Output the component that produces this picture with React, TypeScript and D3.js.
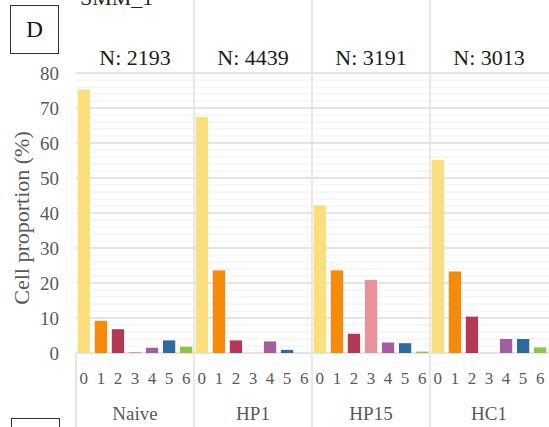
import React from "react";
import * as d3 from "d3";

const groups = ["Naive", "HP1", "HP15", "HC1"];
const counts = ["N: 2193", "N: 4439", "N: 3191", "N: 3013"];
const clusters = ["0", "1", "2", "3", "4", "5", "6"];
const naive = [75.3, 9.2, 6.8, 0.3, 1.5, 3.6, 1.8];
const hp1 = [67.4, 23.6, 3.6, 0, 3.3, 0.9, 0];
const hp15 = [42.2, 23.6, 5.5, 20.9, 3.0, 2.8, 0.4];
const hc1 = [55.2, 23.3, 10.4, 0, 4.0, 4.0, 1.6];
const seriesValues = [naive, hp1, hp15, hc1];
const clusterColors = ["#fbdf7f", "#f58a0b", "#b33a52", "#e8929c", "#a45d9d", "#2f6a9f", "#8cc541"];
const yTicks = [0, 10, 20, 30, 40, 50, 60, 70, 80];

const W = 549;
const H = 427;
const serif = '"Liberation Serif", "Times New Roman", serif';

export default function App() {
  const left = 76;
  const right = 548;
  const y = d3.scaleLinear().domain([0, 80]).range([353, 73]);
  const xGroup = d3.scaleBand<string>().domain(groups).range([left, right]).padding(0);
  const pw = xGroup.bandwidth();
  const xIn = d3
    .scaleBand<string>()
    .domain(clusters)
    .range([0, pw])
    .paddingInner(0.28)
    .paddingOuter(0.1);
  const minor = d3.range(0, 81, 2).filter((v) => v % 10 !== 0);
  const ts = { fontFamily: serif };

  return (
    <svg
      width={W}
      height={H}
      style={{ position: "absolute", left: 0, top: 0, background: "#fff" }}
    >
      <rect x={0} y={0} width={W} height={H} fill="#fff" />
      <text x={80} y={5} fontSize={22} fill="#222" style={ts}>SMM_1</text>
      <rect x={10.5} y={5.5} width={48} height={48} fill="#fff" stroke="#333" strokeWidth={1} />
      <text x={34.5} y={37} fontSize={23} textAnchor="middle" fill="#111" style={ts}>D</text>
      <rect x={11.5} y={418.5} width={48} height={30} fill="#fff" stroke="#333" strokeWidth={1} />

      {minor.map((v) => (
        <line key={"m" + v} x1={left} x2={W} y1={y(v)} y2={y(v)} stroke="#f0f0f0" strokeWidth={1} />
      ))}
      {yTicks.map((v) => (
        <line key={"g" + v} x1={left} x2={W} y1={y(v)} y2={y(v)} stroke="#dcdcdc" strokeWidth={1.5} />
      ))}
      {groups.slice(1).map((g) => (
        <line key={"d" + g} x1={xGroup(g)!} x2={xGroup(g)!} y1={0} y2={H} stroke="#e2e2e2" strokeWidth={1.5} />
      ))}
      <line x1={left} x2={left} y1={y(0)} y2={H} stroke="#dcdcdc" strokeWidth={1.5} />

      {yTicks.map((v) => (
        <text key={"t" + v} x={59} y={y(v) + 6.5} fontSize={19} textAnchor="end" fill="#595959" style={ts}>
          {v}
        </text>
      ))}
      <text
        transform={`translate(29, ${(y(0) + y(80)) / 2 + 5}) rotate(-90)`}
        fontSize={22}
        textAnchor="middle"
        fill="#595959"
        style={ts}
      >
        Cell proportion (%)
      </text>

      {groups.map((g, gi) => {
        const gx = xGroup(g)!;
        return (
          <g key={g}>
            <text x={gx + pw / 2} y={65} fontSize={22} textAnchor="middle" fill="#1a1a1a" style={ts}>
              {counts[gi]}
            </text>
            {seriesValues[gi].map((v, ci) =>
              v > 0 ? (
                <rect
                  key={ci}
                  x={gx + xIn(clusters[ci])!}
                  y={y(v)}
                  width={xIn.bandwidth()}
                  height={y(0) - y(v)}
                  fill={clusterColors[ci]}
                />
              ) : null
            )}
            {clusters.map((c) => (
              <text
                key={"c" + c}
                x={gx + xIn(c)! + xIn.bandwidth() / 2}
                y={384}
                fontSize={17}
                textAnchor="middle"
                fill="#595959"
                style={ts}
              >
                {c}
              </text>
            ))}
            <text x={gx + pw / 2} y={420} fontSize={19} textAnchor="middle" fill="#595959" style={ts}>
              {g}
            </text>
          </g>
        );
      })}
    </svg>
  );
}
